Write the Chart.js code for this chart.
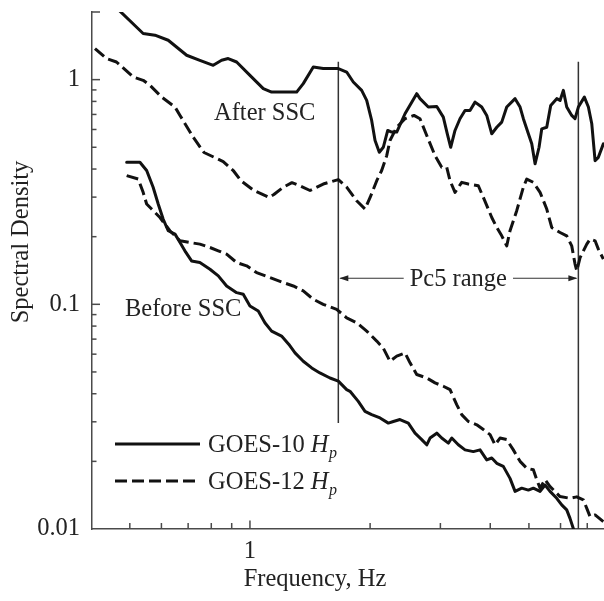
<!DOCTYPE html>
<html>
<head>
<meta charset="utf-8">
<script src="https://cdn.jsdelivr.net/npm/chart.js@4.4.1/dist/chart.umd.min.js"></script>
<style>
html,body{margin:0;padding:0;background:#fff;}
#wrap{width:604px;height:601px;position:relative;}
canvas{display:block;}
</style>
</head>
<body>
<div id="wrap"><canvas id="chart" width="604" height="601"></canvas></div>
<script>
// ---------- data (frequency, spectral density) ----------
const g10AfterFreq = [0.455,0.540,0.578,0.624,0.694,0.749,0.809,0.849,0.882,0.926,1.0,1.080,1.133,1.309,1.360,1.441,1.526,1.665,1.747,1.815,1.905,1.961,2.018,2.058,2.109,2.158,2.214,2.265,2.332,2.446,2.543,2.617,2.667,2.798,2.938,3.051,3.122,3.184,3.264,3.359,3.458,3.559,3.664,3.808,3.920,4.035,4.153,4.274,4.399,4.616,4.751,4.842,4.984,5.082,5.180,5.301,5.384,5.541,5.670,5.870,5.984,6.098,6.218,6.400,6.524,6.650,6.884,7.046,7.185,7.323,7.463,7.681];
const g10AfterVal  = [2.15,1.605,1.577,1.497,1.284,1.219,1.158,1.219,1.241,1.198,1.045,0.912,0.880,0.880,0.960,1.138,1.120,1.120,1.081,0.976,0.896,0.808,0.658,0.536,0.475,0.500,0.594,0.584,0.584,0.705,0.794,0.866,0.823,0.755,0.760,0.681,0.574,0.500,0.594,0.670,0.729,0.729,0.794,0.755,0.693,0.574,0.614,0.647,0.755,0.823,0.755,0.670,0.574,0.518,0.422,0.500,0.604,0.614,0.768,0.823,0.808,0.896,0.755,0.693,0.670,0.755,0.836,0.755,0.636,0.436,0.451,0.518];

const g12AfterFreq = [0.409,0.437,0.463,0.510,0.540,0.562,0.601,0.649,0.668,0.721,0.767,0.857,0.908,0.949,1.023,1.116,1.148,1.212,1.274,1.335,1.414,1.526,1.665,1.747,1.851,1.942,2.0,2.078,2.138,2.201,2.243,2.332,2.446,2.576,2.667,2.773,2.909,3.023,3.112,3.172,3.264,3.393,3.525,3.734,3.844,4.035,4.153,4.274,4.399,4.483,4.660,4.842,4.937,5.129,5.332,5.541,5.703,5.984,6.218,6.400,6.524,6.589,6.716,6.981,7.114,7.323,7.463,7.681];
const g12AfterVal  = [1.375,1.241,1.198,1.027,0.993,0.943,0.836,0.755,0.693,0.554,0.474,0.432,0.394,0.355,0.321,0.299,0.308,0.332,0.348,0.337,0.321,0.343,0.359,0.332,0.289,0.2655,0.299,0.355,0.394,0.459,0.536,0.614,0.670,0.693,0.670,0.564,0.459,0.407,0.407,0.355,0.315,0.349,0.343,0.337,0.299,0.2435,0.2198,0.2018,0.182,0.2125,0.261,0.332,0.361,0.349,0.315,0.2655,0.2198,0.2088,0.2018,0.182,0.151,0.141,0.1614,0.1853,0.195,0.1917,0.176,0.1589];

const g10BeforeFreq = [0.491,0.530,0.551,0.572,0.589,0.606,0.624,0.649,0.668,0.687,0.714,0.749,0.794,0.833,0.874,0.926,0.962,1.0,1.049,1.090,1.133,1.200,1.252,1.297,1.360,1.428,1.497,1.587,1.665,1.747,1.781,1.868,1.942,2.018,2.118,2.222,2.287,2.376,2.493,2.592,2.694,2.773,2.826,2.938,3.023,3.141,3.203,3.327,3.458,3.628,3.771,3.920,4.035,4.153,4.313,4.483,4.616,4.797,4.984,5.129,5.332,5.487,5.648,5.870,6.041,6.218,6.337,6.459,6.561];
const g10BeforeVal  = [0.429,0.429,0.394,0.332,0.2796,0.2396,0.2125,0.2053,0.1884,0.173,0.156,0.1534,0.1433,0.1338,0.1207,0.1127,0.1108,0.0983,0.0933,0.0828,0.076,0.0722,0.0663,0.0608,0.0558,0.0521,0.0495,0.047,0.0455,0.0417,0.041,0.037,0.0334,0.0323,0.0312,0.0296,0.0301,0.0307,0.0296,0.0267,0.025,0.0237,0.0254,0.0267,0.0254,0.0241,0.0254,0.0237,0.0225,0.0221,0.0225,0.0203,0.0207,0.0196,0.019,0.0168,0.0147,0.0152,0.0149,0.0152,0.0147,0.0157,0.0147,0.0137,0.0128,0.01216,0.01115,0.01006,0.00924];

const g12BeforeFreq = [0.491,0.525,0.540,0.551,0.567,0.595,0.630,0.668,0.707,0.749,0.794,0.833,0.874,0.926,0.981,1.039,1.122,1.212,1.284,1.360,1.441,1.526,1.649,1.747,1.851,1.961,2.078,2.158,2.243,2.332,2.446,2.518,2.617,2.773,2.909,3.051,3.172,3.296,3.393,3.525,3.700,3.844,3.996,4.111,4.232,4.399,4.570,4.751,4.937,5.129,5.231,5.332,5.487,5.648,5.984,6.337,6.589,6.843,6.981,7.114,7.323,7.681];
const g12BeforeVal  = [0.374,0.361,0.315,0.2796,0.2655,0.2435,0.2125,0.1917,0.1884,0.1853,0.179,0.173,0.1672,0.1534,0.1483,0.1384,0.1315,0.1249,0.1207,0.1147,0.1053,0.1,0.095,0.0871,0.0828,0.076,0.0686,0.0638,0.0558,0.0588,0.0608,0.0549,0.0487,0.047,0.0447,0.0432,0.0417,0.0358,0.0323,0.0301,0.0291,0.0277,0.0263,0.0237,0.0254,0.025,0.0225,0.02,0.01865,0.01834,0.01655,0.0152,0.0166,0.01545,0.01394,0.0137,0.0139,0.01348,0.01236,0.01135,0.01155,0.01078];

// Pc5 band limits (frequency) and the extent of the marker lines (density)
const pc5Bounds = [1.665, 6.65];
const pc5LineTop = 1.2;
const pc5LineBottoms = [0.0296, 0.01];
const pc5ArrowLevel = 0.1306;

// axes
const xRange = [0.402, 7.71];
const yRange = [0.01, 2.0];
const xTickLabels = [1];
const yTickLabels = [0.01, 0.1, 1];
const xMinorTicks = [0.5,0.6,0.7,0.8,0.9,2,3,4,5,6,7];
const yMajorMarks = [0.1, 1, 2];
const yMinorTicks = [0.02,0.03,0.04,0.05,0.06,0.07,0.08,0.09,0.2,0.3,0.4,0.5,0.6,0.7,0.8,0.9];

// texts
const seriesNames = ['GOES-10', 'GOES-12'];
const afterLabel = 'After SSC';
const beforeLabel = 'Before SSC';
const rangeLabel = 'Pc5 range';
const xTitle = 'Frequency, Hz';
const yTitle = 'Spectral Density';

// ---------- styling ----------
const SERIF = '"Liberation Serif", "Times New Roman", serif';
const FS = 24.5;
const TXT = '#222';
const AXIS = '#4a4a4a';
const LINE = '#111';
const DASH = [12, 5];

const pts = (fx, fy) => fx.map((f, i) => ({x: f, y: fy[i]}));
const seriesStyle = (dashed) => ({
  borderColor: LINE, borderWidth: 3, pointRadius: 0, tension: 0, fill: false,
  borderDash: dashed ? DASH : [], borderJoinStyle: 'round', borderCapStyle: dashed ? 'butt' : 'round'
});
const markerStyle = {borderColor: '#333', borderWidth: 1.5, pointRadius: 0, fill: false};

const overlay = {
  id: 'overlay',
  afterDatasetsDraw(chart) {
    const {ctx, chartArea: a, scales: {x, y}} = chart;
    ctx.save();
    // inward tick marks
    ctx.strokeStyle = AXIS; ctx.lineWidth = 1.5;
    const seg = (x1, y1, x2, y2) => { ctx.beginPath(); ctx.moveTo(x1, y1); ctx.lineTo(x2, y2); ctx.stroke(); };
    xTickLabels.forEach(v => { const p = x.getPixelForValue(v); seg(p, a.bottom, p, a.bottom - 8.5); });
    xMinorTicks.forEach(v => { const p = x.getPixelForValue(v); if (p < a.right - 2) seg(p, a.bottom, p, a.bottom - 6); });
    yMajorMarks.forEach(v => { const p = y.getPixelForValue(v); seg(a.left, p, a.left + 8, p); });
    yMinorTicks.forEach(v => { const p = y.getPixelForValue(v); seg(a.left, p, a.left + 4.5, p); });

    // Pc5 range arrows
    ctx.font = FS + 'px ' + SERIF;
    const xl = x.getPixelForValue(pc5Bounds[0]), xr = x.getPixelForValue(pc5Bounds[1]);
    const ay = y.getPixelForValue(pc5ArrowLevel);
    const tw = ctx.measureText(rangeLabel).width;
    const xc = (xl + xr) / 2;
    ctx.strokeStyle = '#333'; ctx.lineWidth = 1.2;
    seg(xl + 2, ay, xc - tw / 2 - 6, ay);
    seg(xc + tw / 2 + 6, ay, xr - 2, ay);
    ctx.fillStyle = '#222';
    const head = (tip, dir) => { ctx.beginPath(); ctx.moveTo(tip, ay); ctx.lineTo(tip - dir * 9, ay - 3); ctx.lineTo(tip - dir * 9, ay + 3); ctx.closePath(); ctx.fill(); };
    head(xl + 1, -1); head(xr - 1, 1);

    // texts
    ctx.fillStyle = TXT; ctx.textBaseline = 'alphabetic'; ctx.textAlign = 'center';
    ctx.fillText(rangeLabel, xc, ay + 8);
    ctx.textAlign = 'left';
    ctx.fillText(afterLabel, 214, 120);
    ctx.fillText(beforeLabel, 125, 316);

    // axis titles
    ctx.textAlign = 'center';
    ctx.fillText(xTitle, 315, 586);
    ctx.save(); ctx.translate(28, 242); ctx.rotate(-Math.PI / 2); ctx.fillText(yTitle, 0, 0); ctx.restore();

    // legend
    const rows = [{y: 444, base: 452, dash: []}, {y: 481, base: 488.5, dash: DASH}];
    rows.forEach((r, i) => {
      ctx.strokeStyle = LINE; ctx.lineWidth = 3; ctx.setLineDash(r.dash); ctx.lineCap = 'butt';
      seg(115, r.y, 200, r.y);
      ctx.setLineDash([]);
      ctx.textAlign = 'left';
      ctx.font = FS + 'px ' + SERIF;
      const t = seriesNames[i] + ' ';
      ctx.fillText(t, 208, r.base);
      let px = 208 + ctx.measureText(t).width;
      ctx.font = 'italic ' + FS + 'px ' + SERIF;
      ctx.fillText('H', px, r.base);
      px += ctx.measureText('H').width + 0.5;
      ctx.font = 'italic 16px ' + SERIF;
      ctx.fillText('p', px, r.base + 6);
    });
    ctx.restore();
  }
};

new Chart(document.getElementById('chart'), {
  type: 'line',
  data: {
    datasets: [
      Object.assign({label: 'GOES-10 after', data: pts(g10AfterFreq, g10AfterVal)}, seriesStyle(false)),
      Object.assign({label: 'GOES-12 after', data: pts(g12AfterFreq, g12AfterVal)}, seriesStyle(true)),
      Object.assign({label: 'GOES-10 before', data: pts(g10BeforeFreq, g10BeforeVal)}, seriesStyle(false)),
      Object.assign({label: 'GOES-12 before', data: pts(g12BeforeFreq, g12BeforeVal)}, seriesStyle(true)),
      Object.assign({label: 'Pc5 low', data: [{x: pc5Bounds[0], y: pc5LineTop}, {x: pc5Bounds[0], y: pc5LineBottoms[0]}]}, markerStyle),
      Object.assign({label: 'Pc5 high', data: [{x: pc5Bounds[1], y: pc5LineTop}, {x: pc5Bounds[1], y: pc5LineBottoms[1]}]}, markerStyle)
    ]
  },
  options: {
    responsive: false, animation: false, devicePixelRatio: 1,
    layout: {padding: {top: 12, right: 0, left: 0, bottom: 0}},
    plugins: {legend: {display: false}, tooltip: {enabled: false}, title: {display: false}},
    scales: {
      x: {
        type: 'logarithmic', min: xRange[0], max: xRange[1],
        grid: {display: false, drawTicks: false},
        border: {display: true, color: AXIS, width: 1.5},
        afterBuildTicks: s => { s.ticks = xTickLabels.map(v => ({value: v})); },
        afterFit: s => { s.height = 72; s.paddingLeft = 0; s.paddingRight = 0; },
        ticks: {autoSkip: false, maxRotation: 0, padding: 8, color: TXT, font: {family: SERIF, size: FS}, callback: v => String(v)}
      },
      y: {
        type: 'logarithmic', min: yRange[0], max: yRange[1],
        grid: {display: false, drawTicks: false},
        border: {display: true, color: AXIS, width: 1.5},
        afterBuildTicks: s => { s.ticks = yTickLabels.map(v => ({value: v})); },
        afterFit: s => { s.width = 92; s.paddingTop = 0; s.paddingBottom = 0; },
        ticks: {autoSkip: false, padding: 12, color: TXT, font: {family: SERIF, size: FS}, callback: v => String(v)}
      }
    }
  },
  plugins: [overlay]
});
</script>
</body>
</html>
